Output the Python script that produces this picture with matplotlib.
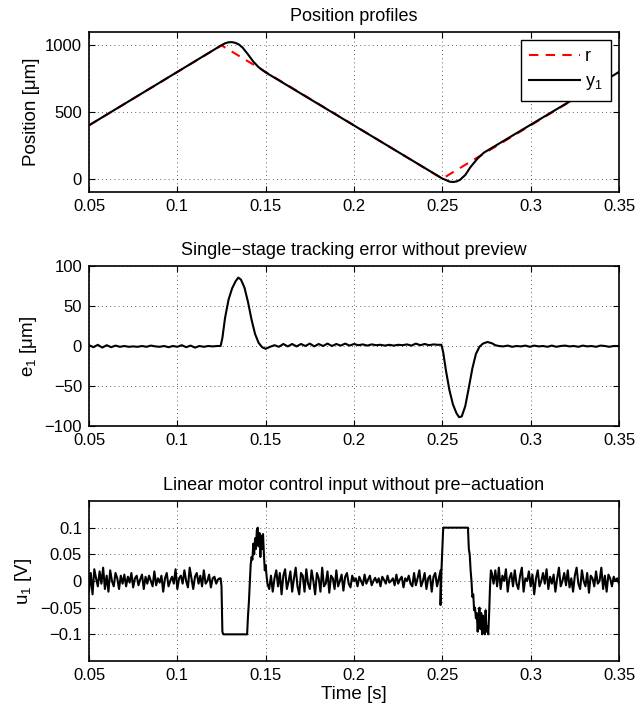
import numpy as np
import matplotlib
matplotlib.use("Agg")
import matplotlib.pyplot as plt
from matplotlib.ticker import FuncFormatter

plt.rcParams["font.family"] = ["Liberation Sans", "DejaVu Sans"]
plt.rcParams["mathtext.default"] = "regular"

# --- position profiles (breakpoints) ---
r_t = [0.05, 0.125, 0.25, 0.35]
r_v = [400, 1000, 0, 800]

y1_t = [0.05, 0.125, 0.127, 0.129, 0.131, 0.133, 0.135, 0.137, 0.140, 0.143,
        0.146, 0.150, 0.250, 0.252, 0.254, 0.256, 0.258, 0.260, 0.263, 0.266,
        0.270, 0.2735, 0.35]
y1_v = [400, 1001, 1015, 1023, 1024, 1018, 1005, 982, 932, 878,
        836, 797, 1, -10, -22, -25, -21, -9, 28, 88,
        152, 195, 800]

# --- tracking error e1 ---
e1_ripple1_t0 = 0.05
e1_ripple1 = [1, -1.5, 1.5, -2, 1, -1.5, 0.5, -1, 0, -1, -0.5, -1, 0, -1, 0.5,
              -0.5, -1, 0, -1.5, 0, -1, 1, -1.5, 0.5, -2, 0, -1, 0, -0.5, 0]
e1_bump1_t = [0.1245, 0.1255, 0.127, 0.129, 0.131, 0.133, 0.1345, 0.136, 0.138,
              0.140, 0.142, 0.144, 0.146, 0.148, 0.150, 0.151]
e1_bump1_v = [0, 10, 35, 58, 72, 81, 85.5, 83, 73, 55, 33, 15, 4, -1.5, -3.5, -2.5]
e1_ripple2_t0 = 0.1525
e1_ripple2 = [-1, 1, -1, 2.5, -0.5, 2.5, -0.5, 2.5, 0, 3, -0.5, 2.5, 0, 3, 0,
              2.5, 0.5, 3, 0.5, 2.5, 1, 2, 0.5, 2, 1, 1.5, 0.5, 1.5, 0.5, 1.5,
              1, 2, 0.5, 3, 1, 2.5, 1, 2, 1.5]
e1_bump2_t = [0.2495, 0.2505, 0.252, 0.254, 0.256, 0.258, 0.2595, 0.261, 0.263,
              0.265, 0.267, 0.269, 0.271, 0.273, 0.2755, 0.278, 0.280, 0.282]
e1_bump2_v = [1.5, -8, -30, -55, -73, -84, -89, -88, -75, -52, -28, -10, -1, 3,
              5, 3.5, 1, 0]
e1_ripple3_t0 = 0.2845
e1_ripple3 = [-0.5, 0.5, -1, 0, -0.5, 0.5, -1, 0.5, -0.5, 0, -1, 0.5, -1, 0,
              0.5, -0.5, 0, -1, 0.5, -0.5, 0, -1, 0.5, 0, -1, 0, 0]
E1_DT = 0.0025

# --- control input u1 (mV) ---
u1_noise1_t0 = 0.050
u1_noise1 = [-20, 15, -25, 22, 5, -10, 18, -5, 25, -15, 10, -20, 20, 0, -10, 15,
             5, -15, 10, -5, 12, -10, 8, -3, 15, -12, 5, 10, -8, 3, 12, -15, 8,
             -5, 10, 0, -10, 18, -8, 5, -3, 10, -20, 5, 15, -10, 0, 8, -5, 22,
             -15, 5, 10, -5, 20, 0, -12, 25, 5, -15, 8, 15, -5, 10, -10, 20, -5,
             0, 12, -12, 5, 8, -5, 3, 5]
u1_sat1_t = [0.1245, 0.1250, 0.1255, 0.1260, 0.1395, 0.1400, 0.1405, 0.1410,
             0.1415, 0.1420, 0.1425, 0.1430, 0.1435, 0.1440, 0.1445, 0.1450,
             0.1455, 0.1460, 0.1465, 0.1470, 0.1475, 0.1480, 0.1485, 0.1490,
             0.1495, 0.1500, 0.1505]
u1_sat1_v = [5, -10, -95, -100, -100, -65, -40, -5, 30, 45, 40, 70, 50, 80, 60,
             95, 100, 65, 90, 45, 85, 60, 88, 50, 20, 30, 10]
u1_noise2_t0 = 0.151
u1_noise2 = [-5, -15, 10, -20, 5, 20, -10, 15, -25, 10, 22, -15, 0, 18, -20, 5,
             25, -10, -25, 15, 10, -20, 22, -5, -15, 20, 0, -25, 15, 5, -20, 25,
             -10, -5, 18, -22, 10, 5, -15, 20, -10, 0, 12, -18, 8, 15, -5, -12,
             10, 0, 5, -10, 8, 0, -8, 12, -5, 3, 10, -8, 0, 6, -3, 5, -10, 8, 2,
             -5, 10, -3, 0, 5, -8, 12, -5, 3, 8, -12, 5, 0, 10, -5, -10, 15, -8,
             5, 20, -10, 0, 15, -15, 5, 10, -20, 8, 15, -10, 5, 20]
u1_sat2_t = [0.2490, 0.2495, 0.2500, 0.2505, 0.2645, 0.2650, 0.2655, 0.2660,
             0.2665, 0.2670, 0.2675, 0.2680, 0.2685, 0.2690, 0.2695, 0.2700,
             0.2705, 0.2710, 0.2715, 0.2720, 0.2725, 0.2730, 0.2735, 0.2740,
             0.2745, 0.2750, 0.2755, 0.2760, 0.2765, 0.2770, 0.2775, 0.2780]
u1_sat2_v = [-45, 20, 60, 100, 100, 60, 50, 20, 0, -30, -25, -55, -50, -70, -60,
             -95, -70, -50, -90, -60, -100, -65, -80, -100, -55, -95, -85, -100,
             -60, -10, 20, 15]
u1_noise3_t0 = 0.279
u1_noise3 = [-5, 20, -10, 25, -15, 10, 0, 22, -20, 5, 15, -10, 20, -5, -15, 10,
             25, -20, 5, 0, 18, -10, 12, -25, 5, 20, -10, 0, 15, -5, 22, -15, 8,
             -5, 12, -20, 5, 25, -10, 0, 15, -8, 20, -12, 5, -20, 10, 25, -5,
             -15, 20, 0, -10, 15, -22, 10, 5, -10, 18, -5, 0, 25, -15, 10, -20,
             12, 5, -10, 8, 0, 5, -5]
U1_DT = 0.001


def sampled(t0, dt, vals):
    return list(t0 + dt * np.arange(len(vals))), list(vals)


def join(*parts):
    t, v = [], []
    for pt, pv in parts:
        t += list(pt)
        v += list(pv)
    return np.array(t), np.array(v)


e1_t, e1_v = join(sampled(e1_ripple1_t0, E1_DT, e1_ripple1),
                  (e1_bump1_t, e1_bump1_v),
                  sampled(e1_ripple2_t0, E1_DT, e1_ripple2),
                  (e1_bump2_t, e1_bump2_v),
                  sampled(e1_ripple3_t0, E1_DT, e1_ripple3))
u1_t, u1_mv = join(sampled(u1_noise1_t0, U1_DT, u1_noise1),
                   (u1_sat1_t, u1_sat1_v),
                   sampled(u1_noise2_t0, U1_DT, u1_noise2),
                   (u1_sat2_t, u1_sat2_v),
                   sampled(u1_noise3_t0, U1_DT, u1_noise3))
u1_v = u1_mv / 1000.0

fmt = FuncFormatter(lambda x, p: ("%g" % round(x, 6)).replace("-", "\u2212"))

fig = plt.figure(figsize=(6.36, 7.12), dpi=100)
W = 530 / 636
L = 89 / 636
H = 160 / 712
ax1 = fig.add_axes([L, 520 / 712, W, H])
ax2 = fig.add_axes([L, 286 / 712, W, H])
ax3 = fig.add_axes([L, 51 / 712, W, H])

TICK_FS = 12
TITLE_FS = 13
LABEL_FS = 13.5


def style(ax):
    ax.set_xlim(0.05, 0.35)
    ax.set_xticks([0.05, 0.1, 0.15, 0.2, 0.25, 0.3, 0.35])
    ax.xaxis.set_major_formatter(fmt)
    ax.yaxis.set_major_formatter(fmt)
    ax.grid(True, color="black", linestyle=(0, (1, 4)), linewidth=0.6, alpha=0.8)
    ax.tick_params(direction="in", top=True, right=True, length=4, width=0.8,
                   labelsize=TICK_FS, pad=5)
    for s in ax.spines.values():
        s.set_linewidth(1.2)


ax1.plot(r_t, r_v, color="red", linestyle=(0, (4.5, 3.5)), linewidth=1.5, label="r")
ax1.plot(y1_t, y1_v, color="black", linewidth=1.5, label="y$_1$")
ax1.set_ylim(-100, 1100)
ax1.set_yticks([0, 500, 1000])
style(ax1)
ax1.set_title("Position profiles", fontsize=TITLE_FS, pad=8)
ax1.set_ylabel("Position [\u03bcm]", fontsize=LABEL_FS)
leg = ax1.legend(loc="upper right", fontsize=13, fancybox=False, framealpha=1,
                 edgecolor="black", handlelength=2.8, handletextpad=0.3,
                 borderaxespad=0.45, borderpad=0.45, labelspacing=0.45)
leg.get_frame().set_linewidth(1.0)

ax2.plot(e1_t, e1_v, color="black", linewidth=1.5)
ax2.set_ylim(-100, 100)
ax2.set_yticks([-100, -50, 0, 50, 100])
style(ax2)
ax2.set_title("Single\u2212stage tracking error without preview", fontsize=TITLE_FS, pad=8)
ax2.set_ylabel("e$_1$ [\u03bcm]", fontsize=LABEL_FS)

ax3.plot(u1_t, u1_v, color="black", linewidth=1.5)
ax3.set_ylim(-0.15, 0.15)
ax3.set_yticks([-0.1, -0.05, 0, 0.05, 0.1])
style(ax3)
ax3.set_title("Linear motor control input without pre\u2212actuation", fontsize=TITLE_FS, pad=8)
ax3.set_ylabel("u$_1$ [V]", fontsize=LABEL_FS)
ax3.set_xlabel("Time [s]", fontsize=LABEL_FS, labelpad=2)

fig.savefig("out.png", dpi=100)
